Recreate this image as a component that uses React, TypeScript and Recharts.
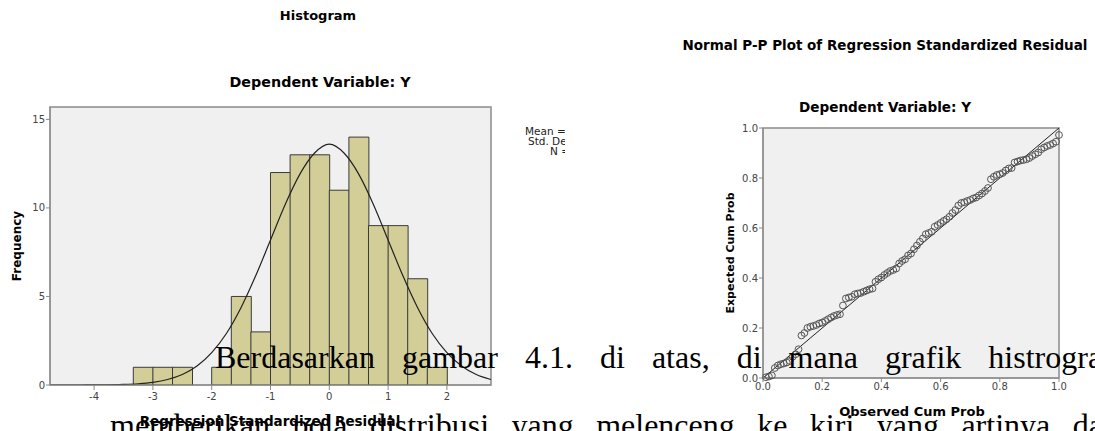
import React from "react";
import {
  ComposedChart,
  ScatterChart,
  Bar,
  Line,
  Scatter,
  XAxis,
  YAxis,
  CartesianGrid,
  ReferenceArea,
  ReferenceLine,
} from "recharts";

// Histogram bins (width 1/3), midpoints and frequencies
const binMids = [
  -3.1667, -2.8333, -2.5, -2.1667, -1.8333, -1.5, -1.1667, -0.8333, -0.5,
  -0.1667, 0.1667, 0.5, 0.8333, 1.1667, 1.5, 1.8333,
];
const binCounts = [1, 1, 1, 0, 1, 5, 3, 12, 13, 13, 11, 14, 9, 9, 6, 1];

// normal curve, every 0.25
const curveX = [
  -4.75, -4.5, -4.25, -4, -3.75, -3.5, -3.25, -3, -2.75, -2.5, -2.25, -2,
  -1.75, -1.5, -1.25, -1, -0.75, -0.5, -0.25, 0, 0.25, 0.5, 0.75, 1, 1.25,
  1.5, 1.75, 2, 2.25, 2.5, 2.75,
];
const curveY = [
  0, 0, 0, 0.01, 0.01, 0.03, 0.07, 0.15, 0.31, 0.59, 1.07, 1.83, 2.91, 4.38,
  6.18, 8.19, 10.2, 11.91, 13.1, 13.6, 13.1, 11.91, 10.2, 8.19, 6.18, 4.38,
  2.91, 1.83, 1.07, 0.59, 0.31,
];

const histXTicks = [-4, -3, -2, -1, 0, 1, 2];
const histYTicks = [0, 5, 10, 15];

// P-P plot: expected cum prob for observed i/100
const ppExpected = [
  0.003, 0.006, 0.01, 0.04, 0.05, 0.055, 0.058, 0.062, 0.068, 0.085, 0.095,
  0.115, 0.17, 0.18, 0.2, 0.205, 0.208, 0.212, 0.218, 0.222, 0.228, 0.235,
  0.242, 0.248, 0.252, 0.255, 0.29, 0.318, 0.322, 0.325, 0.335, 0.338, 0.34,
  0.345, 0.35, 0.355, 0.358, 0.385, 0.395, 0.402, 0.412, 0.42, 0.428, 0.432,
  0.438, 0.458, 0.468, 0.475, 0.49, 0.498, 0.515, 0.53, 0.545, 0.558, 0.575,
  0.58, 0.585, 0.605, 0.612, 0.62, 0.628, 0.635, 0.645, 0.66, 0.672, 0.69,
  0.7, 0.703, 0.708, 0.712, 0.718, 0.722, 0.73, 0.738, 0.748, 0.76, 0.795,
  0.805, 0.812, 0.815, 0.82, 0.83, 0.838, 0.84, 0.862, 0.866, 0.87, 0.872,
  0.875, 0.88, 0.888, 0.895, 0.902, 0.915, 0.922, 0.928, 0.932, 0.938, 0.945,
  0.972,
];
const ppTicks = [0, 0.2, 0.4, 0.6, 0.8, 1];

const bins = binMids.map((x, i) => ({ x, count: binCounts[i] }));
const curve = curveX.map((x, i) => ({ x, y: curveY[i] }));
const ppData = ppExpected.map((y, i) => ({ obs: (i + 1) / 100, exp: y }));

const SANS = "'DejaVu Sans', sans-serif";
const FRAME = "#8a8a8a";
const tickStyle = { fontSize: 10, fill: "#444", fontFamily: SANS };

function Txt({ x, y, size, bold = true, rotate = false, children }: {
  x: number; y: number; size: number; bold?: boolean; rotate?: boolean; children: React.ReactNode;
}) {
  return (
    <div
      style={{
        position: "absolute",
        left: x,
        top: y,
        transform: `translate(-50%, -50%)${rotate ? " rotate(-90deg)" : ""}`,
        fontFamily: SANS,
        fontSize: size,
        fontWeight: bold ? "bold" : "normal",
        whiteSpace: "nowrap",
        color: "#000",
      }}
    >
      {children}
    </div>
  );
}

const PPDot = (props: any) => (
  <circle cx={props.cx} cy={props.cy} r={3.4} fill="none" stroke="#555" strokeWidth={1} />
);

const serif: React.CSSProperties = {
  position: "absolute",
  fontFamily: "'Liberation Serif', 'Times New Roman', serif",
  fontSize: 32,
  lineHeight: "32px",
  textAlign: "justify",
  textAlignLast: "justify",
  whiteSpace: "nowrap",
  color: "#000",
};

export default function App() {
  return (
    <div
      style={{
        position: "fixed",
        left: 0,
        top: 0,
        width: 1095,
        height: 431,
        overflow: "hidden",
        background: "#fff",
      }}
    >
      {/* Histogram */}
      <div style={{ position: "absolute", left: 0, top: 0, width: 565, height: 431, overflow: "hidden" }}>
        <ComposedChart
          width={565}
          height={431}
          data={bins}
          margin={{ top: 107, right: 74, bottom: 16, left: 10 }}
          barCategoryGap={0}
          barGap={0}
        >
          <CartesianGrid fill="#f0f0f0" horizontal={false} vertical={false} />
          <XAxis
            dataKey="x"
            type="number"
            domain={[-4.75, 2.75]}
            allowDataOverflow
            ticks={histXTicks}
            interval={0}
            height={30}
            tick={tickStyle}
            tickSize={5}
            tickMargin={3}
            axisLine={{ stroke: FRAME }}
            tickLine={{ stroke: FRAME }}
          />
          <XAxis xAxisId="curve" dataKey="x" type="number" domain={[-4.75, 2.75]} allowDataOverflow hide />
          <YAxis
            type="number"
            domain={[0, 15.7]}
            allowDataOverflow
            ticks={histYTicks}
            interval={0}
            width={40}
            tick={tickStyle}
            tickSize={4}
            tickMargin={1}
            axisLine={{ stroke: FRAME }}
            tickLine={{ stroke: FRAME }}
          />
          <Bar dataKey="count" fill="#d3ce97" stroke="#3a3a3a" strokeWidth={1} isAnimationActive={false} />
          <Line
            xAxisId="curve"
            data={curve}
            dataKey="y"
            type="monotone"
            stroke="#222"
            strokeWidth={1.2}
            dot={false}
            isAnimationActive={false}
          />
          <ReferenceArea x1={-4.75} x2={2.75} y1={0} y2={15.7} fill="none" stroke={FRAME} strokeWidth={1.5} ifOverflow="visible" />
        </ComposedChart>
        <div style={{ position: "absolute", left: 525, top: 126, fontFamily: SANS, fontSize: 10.5, lineHeight: "10px", color: "#222", whiteSpace: "nowrap" }}>
          <div>Mean = 1.06E-15</div>
          <div style={{ marginLeft: 3 }}>Std. Dev. = 0.985</div>
          <div style={{ marginLeft: 25 }}>N = 100</div>
        </div>
        <Txt x={17} y={246} size={12} rotate>Frequency</Txt>
        <Txt x={270} y={421} size={13.5}>Regression Standardized Residual</Txt>
      </div>
      <Txt x={318} y={15} size={13}>Histogram</Txt>
      <Txt x={320} y={82} size={14.3}>Dependent Variable: Y</Txt>

      {/* Normal P-P plot */}
      <div style={{ position: "absolute", left: 565, top: 0, width: 530, height: 431, background: "#fff" }}>
        <ScatterChart width={530} height={431} margin={{ top: 128, right: 36, bottom: 28, left: 168 }}>
          <CartesianGrid fill="#f0f0f0" horizontal={false} vertical={false} />
          <XAxis
            dataKey="obs"
            type="number"
            domain={[0, 1]}
            ticks={ppTicks}
            interval={0}
            height={25}
            tick={tickStyle}
            tickFormatter={(v: number) => v.toFixed(1)}
            tickSize={4}
            tickMargin={1}
            axisLine={{ stroke: FRAME }}
            tickLine={{ stroke: FRAME }}
          />
          <YAxis
            dataKey="exp"
            type="number"
            domain={[0, 1]}
            ticks={ppTicks}
            interval={0}
            width={30}
            tick={tickStyle}
            tickFormatter={(v: number) => v.toFixed(1)}
            tickSize={4}
            tickMargin={1}
            axisLine={{ stroke: FRAME }}
            tickLine={{ stroke: FRAME }}
          />
          <ReferenceLine segment={[{ x: 0, y: 0 }, { x: 1, y: 1 }]} stroke="#222" strokeWidth={1} ifOverflow="visible" />
          <Scatter data={ppData} shape={PPDot} isAnimationActive={false} />
          <ReferenceArea x1={0} x2={1} y1={0} y2={1} fill="none" stroke={FRAME} strokeWidth={1.5} ifOverflow="visible" />
        </ScatterChart>
      </div>
      <Txt x={885} y={45} size={13.5}>Normal P-P Plot of Regression Standardized Residual</Txt>
      <Txt x={885} y={107} size={13.6}>Dependent Variable: Y</Txt>
      <Txt x={730} y={253} size={11} rotate>Expected Cum Prob</Txt>
      <Txt x={912} y={411} size={13}>Observed Cum Prob</Txt>

      {/* body text overlay */}
      <div style={{ ...serif, left: 215, top: 341, width: 912 }}>
        Berdasarkan gambar 4.1. di atas, di mana grafik histrogram
      </div>
      <div style={{ ...serif, left: 110, top: 409, width: 1016 }}>
        memberikan pola distribusi yang melenceng ke kiri yang artinya data
      </div>
    </div>
  );
}
